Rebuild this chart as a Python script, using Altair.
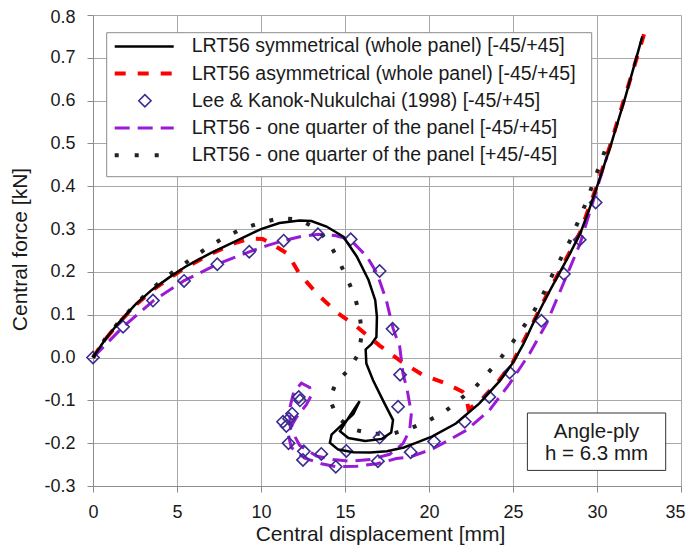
import altair as alt
import pandas as pd

# ---------------- data ----------------
sym_x = [0, 0.7, 1.5, 2.5, 3.5, 4.5, 5.5, 7.0, 8.5, 10.0, 11.1, 12.3, 13.0, 13.9, 14.9,
         15.7, 16.4, 16.8, 16.9, 16.87, 16.57, 16.23, 16.27, 16.67, 17.26, 17.86, 17.75,
         17.2, 16.2, 15.2, 14.7, 15.3, 15.87, 15.5, 14.8, 14.2, 14.1, 14.6, 15.5, 16.5,
         17.5, 18.5, 19.3, 20.2, 21.6, 23.0, 24.2, 25.0, 25.6, 26.2, 27.0, 27.7, 28.3,
         29.0, 29.5, 30.0, 30.8, 31.7, 32.7]
sym_y = [0, 0.041, 0.080, 0.123, 0.158, 0.186, 0.212, 0.244, 0.272, 0.300, 0.314, 0.320,
         0.319, 0.306, 0.282, 0.236, 0.181, 0.134, 0.095, 0.048, 0.031, 0.019, -0.014,
         -0.053, -0.100, -0.146, -0.175, -0.190, -0.195, -0.188, -0.172, -0.135, -0.102,
         -0.132, -0.158, -0.180, -0.199, -0.215, -0.221, -0.222, -0.219, -0.210, -0.198,
         -0.184, -0.154, -0.107, -0.055, -0.012, 0.030, 0.080, 0.142, 0.193, 0.236,
         0.290, 0.342, 0.399, 0.493, 0.610, 0.750]

asym_x = [0, 0.7, 1.5, 2.5, 3.5, 4.5, 5.5, 7.0, 8.5, 9.4, 10.1, 10.7, 11.6, 12.3, 13.4,
          14.6, 15.7, 17.06, 18.3, 19.6, 21.1, 22.0, 22.2, 22.35, 23.0, 24.2, 25.0, 26.2,
          27.0, 27.7, 29.0, 30.0, 30.8, 31.7, 32.8]
asym_y = [0, 0.041, 0.079, 0.121, 0.156, 0.184, 0.210, 0.242, 0.268, 0.278, 0.277, 0.264,
          0.242, 0.195, 0.146, 0.103, 0.072, 0.028, -0.008, -0.040, -0.062, -0.080, -0.090,
          -0.120, -0.104, -0.052, -0.010, 0.082, 0.145, 0.196, 0.293, 0.402, 0.497, 0.614,
          0.755]

lee_x = [0, 1.79, 3.57, 5.42, 7.4, 9.3, 11.35, 13.39, 15.34, 17.06, 17.83, 18.28, 18.16,
         17.06, 16.96, 15.08, 14.45, 13.59, 12.5, 12.55, 11.64, 11.31, 11.51, 11.67, 11.85,
         12.25, 12.32, 18.91, 20.3, 22.13, 23.59, 24.8, 26.69, 28.03, 28.97, 29.92]
lee_y = [0, 0.072, 0.133, 0.179, 0.218, 0.247, 0.273, 0.288, 0.276, 0.202, 0.067, -0.040,
         -0.115, -0.187, -0.242, -0.218, -0.255, -0.225, -0.239, -0.219, -0.200, -0.150,
         -0.160, -0.143, -0.131, -0.092, -0.100, -0.221, -0.196, -0.150, -0.092, -0.035,
         0.086, 0.195, 0.275, 0.362]

q1_x = [0, 1.8, 3.6, 5.4, 7.4, 9.3, 10.4, 11.35, 12.4, 13.4, 14.4, 15.3, 16.3, 16.9,
        17.46, 17.86, 18.26, 18.45, 18.7, 18.95, 18.85, 18.45, 17.66, 16.5, 15.3, 14.3,
        13.3, 12.3, 11.75, 11.7, 11.95, 12.4, 12.9, 13.0, 12.7, 12.1, 11.6, 11.8, 12.6,
        13.6, 14.5, 15.7, 16.9, 18.06, 18.9, 20.24, 22.22, 23.6, 24.8, 26.0, 27.0, 28.0,
        29.0, 30.16, 30.6]
q1_y = [0, 0.072, 0.133, 0.179, 0.218, 0.247, 0.262, 0.273, 0.283, 0.288, 0.285, 0.276,
        0.236, 0.197, 0.134, 0.068, 0.025, -0.037, -0.075, -0.130, -0.170, -0.201, -0.226,
        -0.238, -0.242, -0.238, -0.230, -0.205, -0.165, -0.120, -0.080, -0.060, -0.070,
        -0.088, -0.110, -0.140, -0.175, -0.210, -0.235, -0.248, -0.255, -0.254, -0.248,
        -0.236, -0.232, -0.213, -0.170, -0.123, -0.061, 0.010, 0.080, 0.173, 0.267,
        0.415, 0.470]

q2_x = [0, 0.8, 1.5, 2.3, 3.1, 4.0, 4.9, 5.8, 6.75, 7.75, 8.8, 9.9, 11.07, 12.2, 13.3,
        14.05, 14.6, 15.1, 15.55, 15.87, 16.0, 15.83, 15.28, 14.45, 14.09, 14.55, 15.47,
        16.63, 17.82, 18.85, 19.94, 20.93, 21.83, 22.78, 23.51, 24.25, 25.0, 25.7, 26.3,
        26.83, 27.34, 27.88, 28.42, 28.87, 29.33, 29.73, 30.12, 30.51]
q2_y = [0, 0.048, 0.081, 0.115, 0.146, 0.177, 0.204, 0.229, 0.255, 0.279, 0.299, 0.314,
        0.325, 0.323, 0.302, 0.268, 0.229, 0.187, 0.146, 0.101, 0.056, 0.011, -0.026,
        -0.059, -0.098, -0.140, -0.168, -0.178, -0.178, -0.166, -0.148, -0.127, -0.098,
        -0.068, -0.036, -0.002, 0.037, 0.076, 0.112, 0.151, 0.193, 0.234, 0.275, 0.317,
        0.360, 0.403, 0.445, 0.487]

legend_labels = [
    "LRT56 symmetrical (whole panel) [-45/+45]",
    "LRT56 asymmetrical (whole panel) [-45/+45]",
    "Lee & Kanok-Nukulchai (1998) [-45/+45]",
    "LRT56 - one quarter of the panel [-45/+45]",
    "LRT56 - one quarter of the panel [+45/-45]",
]
note_lines = ["Angle-ply", "h = 6.3 mm"]
x_ticks = [0, 5, 10, 15, 20, 25, 30, 35]
y_ticks = [-0.3, -0.2, -0.1, 0.0, 0.1, 0.2, 0.3, 0.4, 0.5, 0.6, 0.7, 0.8]

# ---------------- styling ----------------
FONT = "Liberation Sans"
TXT = "#1a1a1a"
BLACK = "#000000"
RED = "#ff0000"
NAVY = "#3a2d8f"
PURPLE = "#9a1ad6"
W, H = 588, 471

xs = alt.Scale(domain=[0, 35], nice=False, zero=False)
ys = alt.Scale(domain=[-0.3, 0.8], nice=False, zero=False)


def frame(xv, yv):
    return pd.DataFrame({"x": xv, "y": yv, "i": list(range(len(xv)))})


def enc(axes=False):
    if axes:
        xa = alt.X("x:Q", scale=xs, title="Central displacement [mm]",
                   axis=alt.Axis(values=x_ticks, titleX=287, titleY=48,
                                 titleBaseline="middle", titleAlign="center",
                                 labelAlign={"condition": {"test": "datum.value >= 35", "value": "right"},
                                             "value": "center"},
                                 labelOffset={"condition": {"test": "datum.value >= 35", "value": 4},
                                              "value": 0}))
        ya = alt.Y("y:Q", scale=ys, title="Central force [kN]",
                   axis=alt.Axis(values=y_ticks, titleX=-73, titleY=234,
                                 titleBaseline="middle", titleAlign="center", titleAngle=270,
                                 labelOffset={"condition": {"test": "datum.value >= 0.79", "value": 2.5},
                                              "value": 0},
                                 labelExpr="datum.value < -0.0001 ? '-' + format(-datum.value, '.1f') : format(abs(datum.value), '.1f')"))
    else:
        xa = alt.X("x:Q", scale=xs)
        ya = alt.Y("y:Q", scale=ys)
    return dict(x=xa, y=ya)


red_line = alt.Chart(frame(asym_x, asym_y)).mark_line(
    color=RED, strokeWidth=4, strokeDash=[11, 12], strokeCap="butt").encode(
    **enc(True), order="i:Q")
purple_line = alt.Chart(frame(q1_x, q1_y)).mark_line(
    color=PURPLE, strokeWidth=3, strokeDash=[15, 8], strokeCap="butt").encode(
    **enc(), order="i:Q")
dot_line = alt.Chart(frame(q2_x, q2_y)).mark_line(
    color="#222222", strokeWidth=4, strokeDash=[4, 15], strokeCap="butt").encode(
    **enc(), order="i:Q")
lee_pts = alt.Chart(frame(lee_x, lee_y)).mark_point(
    shape="diamond", size=150, filled=False, color=NAVY, strokeWidth=1.6, opacity=1).encode(
    **enc())
sym_line = alt.Chart(frame(sym_x, sym_y)).mark_line(
    color=BLACK, strokeWidth=2.5).encode(**enc(), order="i:Q")

one = pd.DataFrame({"a": [0]})

# legend (pixel positions inside the plot area)
LX0, LX1, LY0, LY1 = 13.7, 498.7, 17.7, 161.7
row_y = [31.4 + 27.2 * k for k in range(5)]
legend_layers = [
    alt.Chart(one).mark_rect(fill="white", stroke="#8c8c8c", strokeWidth=1).encode(
        x=alt.value(LX0), x2=alt.value(LX1), y=alt.value(LY0), y2=alt.value(LY1))
]
samples = [
    dict(color=BLACK, strokeWidth=2.5),
    dict(color=RED, strokeWidth=4, strokeDash=[11, 12], strokeCap="butt"),
    None,
    dict(color=PURPLE, strokeWidth=3, strokeDash=[15, 8], strokeCap="butt"),
    dict(color="#222222", strokeWidth=4, strokeDash=[4, 16], strokeCap="butt"),
]
for k, lab in enumerate(legend_labels):
    if samples[k] is None:
        legend_layers.append(alt.Chart(one).mark_point(
            shape="diamond", size=150, filled=False, color=NAVY, strokeWidth=1.6, opacity=1).encode(
            x=alt.value(51.9), y=alt.value(row_y[k])))
    else:
        legend_layers.append(alt.Chart(one).mark_rule(**samples[k]).encode(
            x=alt.value(21.7), x2=alt.value(80.7), y=alt.value(row_y[k])))
    legend_layers.append(alt.Chart(one).mark_text(
        text=lab, align="left", baseline="middle", font=FONT, fontSize=19.5, color=TXT).encode(
        x=alt.value(98.7), y=alt.value(row_y[k])))

# note box
note_layers = [
    alt.Chart(one).mark_rect(fill="white", stroke="#333333", strokeWidth=1).encode(
        x=alt.value(434.4), x2=alt.value(572.7), y=alt.value(398.0), y2=alt.value(455.4))
]
for k, t in enumerate(note_lines):
    note_layers.append(alt.Chart(one).mark_text(
        text=t, align="center", baseline="middle", font=FONT, fontSize=20.5, color=TXT).encode(
        x=alt.value(503.5), y=alt.value(416.6 + 22.3 * k)))

chart = alt.layer(
    red_line, *legend_layers, *note_layers, purple_line, dot_line, lee_pts, sym_line
).properties(
    width=W, height=H,
    autosize=alt.AutoSizeParams(type="none"),
    padding={"left": 85, "top": 7, "right": 5, "bottom": 60},
).configure_view(
    strokeWidth=0
).configure_axis(
    grid=True, gridColor="#a8a8a8", gridWidth=1,
    domainColor="#8c8c8c", domainWidth=1,
    tickColor="#8c8c8c", tickSize=6, tickWidth=1,
    labelFont=FONT, labelFontSize=18, labelColor=TXT,
    titleFont=FONT, titleFontSize=21, titleColor=TXT, titleFontWeight="normal",
    labelFlush=False, labelOverlap=False,
).configure_axisY(labelPadding=12).configure_axisX(labelPadding=11)

chart.save("out.html", embed_options={"renderer": "svg", "actions": False})
